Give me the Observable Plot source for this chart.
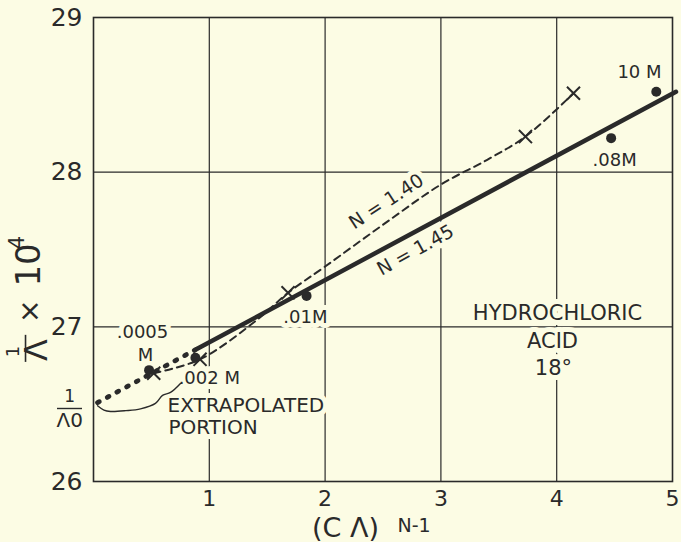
<!DOCTYPE html>
<html><head><meta charset="utf-8">
<script src="https://cdn.jsdelivr.net/npm/d3@7"></script>
<script src="https://cdn.jsdelivr.net/npm/@observablehq/plot@0.6"></script>
<style>html,body{margin:0;padding:0;background:#fcfce4;}</style>
</head><body><div id="chart"></div>
<script>
// ---- data ----
const xTicks = [1, 2, 3, 4, 5];
const yTicks = [26, 27, 28, 29];
const gridXValues = [1, 2, 3, 4];
const gridYValues = [27, 28];

// measured points (filled dots), N = 1.45
const dotConc = [".0005 M", ".002 M", ".01 M", ".08 M", ".10 M"];
const dotX = [0.48, 0.88, 1.84, 4.47, 4.86];
const dotY = [26.72, 26.80, 27.20, 28.22, 28.52];

// crosses, N = 1.40
const crossX = [0.52, 0.92, 1.68, 3.73, 4.145];
const crossY = [26.70, 26.79, 27.22, 28.23, 28.51];

// dashed curve traced through the crosses (N = 1.40)
const n140X = [0.52, 0.92, 1.42, 1.68, 2.0, 2.5, 3.0, 3.4, 3.73, 4.145];
const n140Y = [26.70, 26.79, 27.05, 27.22, 27.39, 27.66, 27.92, 28.08, 28.23, 28.51];

// solid straight line (N = 1.45)
const n145X = [0.9, 5.03];
const n145Y = [26.86, 28.52];

// extrapolated (heavy dotted) portion
const extrapX = [0.035, 0.9];
const extrapY = [26.51, 26.86];

// brace under the extrapolated portion
const braceX = [0.035, 0.09, 0.147, 0.28, 0.406, 0.535, 0.596, 0.665, 0.751];
const braceY = [26.49, 26.462, 26.453, 26.458, 26.47, 26.505, 26.557, 26.576, 26.634];

// annotations
const labelText = ["10 M", ".08M", ".01M", ".0005", "M", ".002 M"];
const labelX = [4.715, 4.50, 1.83, 0.423, 0.449, 1.00];
const labelY = [28.647, 28.078, 27.06, 26.965, 26.815, 26.67];

const titleText = ["HYDROCHLORIC", "ACID", "18°"];
const titleX = [4.007, 3.964, 3.972];
const titleY = [27.087, 26.906, 26.731];

const extrapText = ["EXTRAPOLATED", "PORTION"];
const extrapTX = [0.639, 0.648];
const extrapTY = [26.49, 26.35];

const slopeText = ["N = 1.40", "N = 1.45"];
const slopeX = [2.53, 2.78];
const slopeY = [27.81, 27.495];
const slopeAngle = [-33, -29];

// ---- build ----
const bg = "#fcfce4";
const ink = "#2a2a2a";
const font = "'DejaVu Sans', 'Liberation Sans', sans-serif";

const zip = (xs, ys, extra = {}) => xs.map((x, i) => {
  const o = {x, y: ys[i]};
  for (const k in extra) o[k] = extra[k][i];
  return o;
});

const dots = zip(dotX, dotY, {conc: dotConc});
const crosses = zip(crossX, crossY);
const n140 = zip(n140X, n140Y);
const n145 = zip(n145X, n145Y);
const extrap = zip(extrapX, extrapY);
const brace = zip(braceX, braceY);
const labels = zip(labelX, labelY, {t: labelText});
const titles = zip(titleX, titleY, {t: titleText});
const extrapLabels = zip(extrapTX, extrapTY, {t: extrapText});
const slopes = zip(slopeX, slopeY, {t: slopeText, a: slopeAngle});

function haloText(data, opts) {
  return [
    Plot.text(data, {...opts, fill: bg, stroke: bg, strokeWidth: 10, strokeLinejoin: "round"}),
    Plot.text(data, {...opts, fill: ink})
  ];
}

const chart = Plot.plot({
  width: 681,
  height: 542,
  marginLeft: 93,
  marginRight: 9,
  marginTop: 17,
  marginBottom: 61,
  x: {domain: [0, 5]},
  y: {domain: [26, 29]},
  style: {background: bg, fontFamily: font, color: ink, overflow: "visible"},
  marks: [
    Plot.gridX(gridXValues, {stroke: ink, strokeOpacity: 1, strokeWidth: 1.2}),
    Plot.gridY(gridYValues, {stroke: ink, strokeOpacity: 1, strokeWidth: 1.2}),
    Plot.frame({stroke: ink, strokeWidth: 1.6}),
    Plot.axisX(xTicks, {tickSize: 0, tickPadding: 9, fontSize: 22, label: null, fill: ink, tickFormat: d => String(d)}),
    Plot.axisY(yTicks, {tickSize: 0, tickPadding: 11, fontSize: 25, label: null, fill: ink, tickFormat: d => String(d)}),

    // annotations with halos (make gaps in grid lines)
    ...haloText(labels, {x: "x", y: "y", text: "t", fontSize: 18}),
    ...haloText(titles, {x: "x", y: "y", text: "t", fontSize: 21}),
    ...haloText(extrapLabels, {x: "x", y: "y", text: "t", fontSize: 20, textAnchor: "start"}),
    ...haloText(slopes, {x: "x", y: "y", text: "t", rotate: "a", fontSize: 19}),

    // curves
    Plot.line(n140, {x: "x", y: "y", stroke: ink, strokeWidth: 2, strokeDasharray: "7,5", curve: "catmull-rom"}),
    Plot.line(n145, {x: "x", y: "y", stroke: ink, strokeWidth: 4.5}),
    Plot.line(extrap, {x: "x", y: "y", stroke: ink, strokeWidth: 4.8, strokeDasharray: "2,9", strokeLinecap: "round"}),
    Plot.line(brace, {x: "x", y: "y", stroke: ink, strokeWidth: 1.4, curve: "catmull-rom"}),

    // points
    Plot.dot(crosses, {x: "x", y: "y", symbol: "times", r: 6, stroke: ink, strokeWidth: 2}),
    Plot.dot(dots, {x: "x", y: "y", r: 5, fill: ink, stroke: "none", title: "conc"}),

    // special y tick 1/Λ0
    Plot.text([{x: -0.205, y: 26.55, t: "1"}], {x: "x", y: "y", text: "t", fontSize: 17, fill: ink}),
    Plot.ruleY([26.472], {x1: -0.311, x2: -0.095, stroke: ink, strokeWidth: 1.4}),
    Plot.text([{x: -0.205, y: 26.395, t: "Λ0"}], {x: "x", y: "y", text: "t", fontSize: 20, fill: ink}),

    // y axis title: 1/Λ × 10⁴ (rotated)
    Plot.text([{x: -0.69, y: 26.84, t: "1"}], {x: "x", y: "y", text: "t", rotate: -90, fontSize: 18, fill: ink}),
    Plot.ruleX([-0.587], {y1: 26.77, y2: 26.945, stroke: ink, strokeWidth: 1.6}),
    Plot.text([{x: -0.49, y: 26.85, t: "Λ"}], {x: "x", y: "y", text: "t", rotate: -90, fontSize: 32, fill: ink}),
    Plot.text([{x: -0.545, y: 27.10, t: "×"}], {x: "x", y: "y", text: "t", rotate: -90, fontSize: 28, fill: ink}),
    Plot.text([{x: -0.553, y: 27.40, t: "10"}], {x: "x", y: "y", text: "t", rotate: -90, fontSize: 34, fill: ink}),
    Plot.text([{x: -0.66, y: 27.545, t: "4"}], {x: "x", y: "y", text: "t", rotate: -90, fontSize: 21, fill: ink}),

    // x axis title: (C Λ)^(N-1)
    Plot.text([{x: 2.176, y: 25.695, t: "(C Λ)"}], {x: "x", y: "y", text: "t", fontSize: 27, fill: ink}),
    Plot.text([{x: 2.625, y: 25.715, t: "N-1"}], {x: "x", y: "y", text: "t", fontSize: 19, textAnchor: "start", fill: ink})
  ]
});
document.getElementById("chart").appendChild(chart);
</script>
</body></html>
